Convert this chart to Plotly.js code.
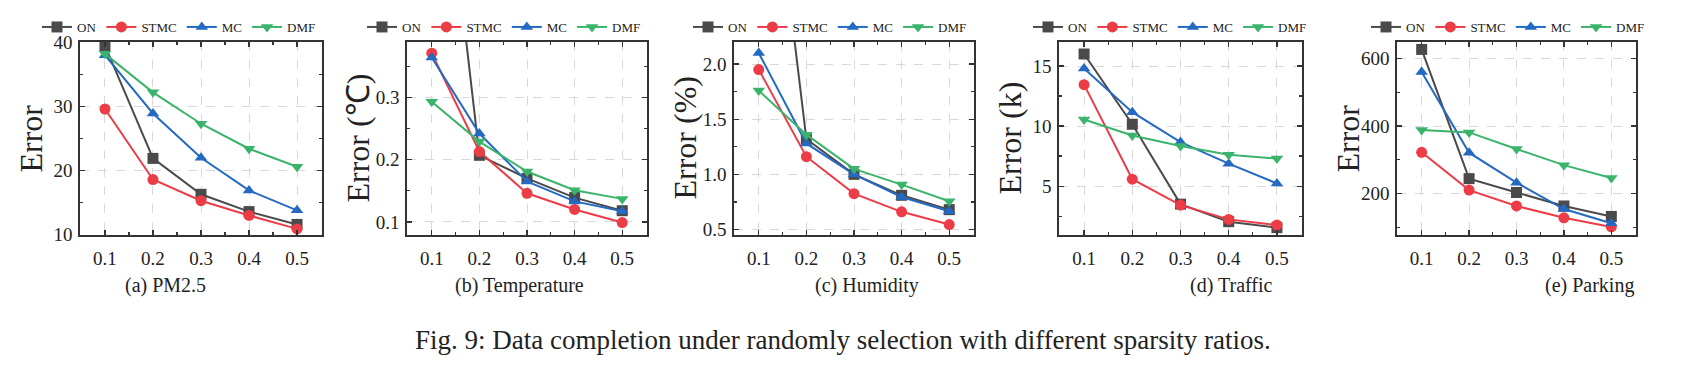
<!DOCTYPE html>
<html>
<head>
<meta charset="utf-8">
<script src="https://cdn.plot.ly/plotly-3.0.1.min.js"></script>
<style>html,body{margin:0;padding:0;background:#fff;}#chart{width:1686px;height:367px;}</style>
</head>
<body>
<div id="chart"></div>
<script>
// ---- data ----
const ratios = [0.1, 0.2, 0.3, 0.4, 0.5];
const methods = ["ON", "STMC", "MC", "DMF"];

const pm25_ON   = [39.5, 21.9, 16.3, 13.6, 11.6];
const pm25_STMC = [29.6, 18.6, 15.3, 13.0, 10.9];
const pm25_MC   = [38.0, 28.9, 22.0, 16.9, 13.8];
const pm25_DMF  = [38.2, 32.2, 27.3, 23.4, 20.6];

const temp_ON   = [0.87, 0.207, 0.170, 0.139, 0.118];
const temp_STMC = [0.371, 0.213, 0.146, 0.120, 0.099];
const temp_MC   = [0.364, 0.242, 0.165, 0.133, 0.117];
const temp_DMF  = [0.293, 0.229, 0.181, 0.151, 0.137];

const hum_ON    = [4.9, 1.32, 1.00, 0.81, 0.68];
const hum_STMC  = [1.95, 1.16, 0.825, 0.66, 0.545];
const hum_MC    = [2.10, 1.28, 1.00, 0.795, 0.666];
const hum_DMF   = [1.76, 1.36, 1.05, 0.907, 0.756];

const traf_ON   = [16.0, 10.15, 3.5, 2.04, 1.54];
const traf_STMC = [13.45, 5.58, 3.42, 2.23, 1.76];
const traf_MC   = [14.8, 11.16, 8.67, 6.87, 5.22];
const traf_DMF  = [10.55, 9.22, 8.34, 7.62, 7.29];

const park_ON   = [627, 244, 203, 163, 132];
const park_STMC = [322, 210, 163, 128, 101];
const park_MC   = [560, 321, 232, 154, 112];
const park_DMF  = [388, 381, 332, 284, 246];

const panelData = [
  [pm25_ON, pm25_STMC, pm25_MC, pm25_DMF],
  [temp_ON, temp_STMC, temp_MC, temp_DMF],
  [hum_ON, hum_STMC, hum_MC, hum_DMF],
  [traf_ON, traf_STMC, traf_MC, traf_DMF],
  [park_ON, park_STMC, park_MC, park_DMF]
];
const yTitles = ["Error", "Error (℃)", "Error (%)", "Error (k)", "Error"];
const captions = ["(a) PM2.5", "(b) Temperature", "(c) Humidity", "(d) Traffic", "(e) Parking"];
const figCaption = "Fig. 9: Data completion under randomly selection with different sparsity ratios.";

// ---- style ----
const W = 1686, H = 367;
const colors = ["#4a4a4a", "#ec3d47", "#2469c2", "#3bb46b"];
const symbols = ["square", "circle", "triangle-up", "triangle-down"];
const plotLeft = [80, 407, 734, 1059, 1397];
const plotRight = [322, 647, 974, 1302, 1636];
const plotTop = 42, plotBottom = 235;
const yRanges = [[9.95, 40.05], [0.079, 0.389], [0.45, 2.2], [0.93, 17.0], [77, 649]];
const yDticks = [10, 0.1, 0.5, 5, 200];
const yFormats = ["d", ".1f", ".1f", "d", "d"];
const legendLeft = [37, 362, 688, 1028, 1366];
const capCenters = [165, 519, 867, 1231, 1589];
const serif = "Liberation Serif, Times New Roman, serif";
const dark = "#333333";

const traces = [];
const layout = {
  width: W, height: H,
  margin: {l: 0, r: 0, t: 0, b: 0},
  paper_bgcolor: "#ffffff", plot_bgcolor: "#ffffff",
  font: {family: serif, color: "#222222", size: 18},
  annotations: []
};

for (let p = 0; p < 5; p++) {
  const sfx = p === 0 ? "" : String(p + 1);
  const legName = "legend" + sfx;
  for (let m = 0; m < 4; m++) {
    const clipOff = !((p === 1 || p === 2) && m === 0);
    traces.push({
      type: "scatter", mode: "lines+markers",
      x: ratios, y: panelData[p][m], name: methods[m],
      xaxis: "x" + sfx, yaxis: "y" + sfx,
      legend: legName,
      cliponaxis: !clipOff,
      line: {color: colors[m], width: 2},
      marker: {symbol: symbols[m], size: 11, color: colors[m]}
    });
  }
  layout["xaxis" + sfx] = {
    domain: [plotLeft[p] / W, plotRight[p] / W],
    anchor: "y" + sfx,
    range: [0.048, 0.552],
    tickvals: ratios, tickformat: ".1f",
    ticks: "inside", ticklen: 5, tickwidth: 1.2, tickcolor: dark,
    showline: true, linecolor: dark, linewidth: 1.6, mirror: "allticks",
    showgrid: true, gridcolor: "#d9d9d9", griddash: "dash", gridwidth: 1,
    zeroline: false,
    minor: {dtick: 0.05, tick0: 0.05, ticks: "inside", ticklen: 3, tickcolor: dark, showgrid: false},
    tickfont: {family: serif, size: 19, color: "#222222"},
    ticklabelstandoff: 6
  };
  layout["yaxis" + sfx] = {
    domain: [1 - plotBottom / H, 1 - plotTop / H],
    anchor: "x" + sfx,
    range: yRanges[p],
    dtick: yDticks[p], tick0: 0, tickformat: yFormats[p],
    ticks: "inside", ticklen: 5, tickwidth: 1.2, tickcolor: dark,
    showline: true, linecolor: dark, linewidth: 1.6, mirror: "allticks",
    showgrid: true, gridcolor: "#d9d9d9", griddash: "dash", gridwidth: 1,
    zeroline: false,
    minor: {dtick: yDticks[p] / 2, ticks: "inside", ticklen: 3, tickcolor: dark, showgrid: false},
    tickfont: {family: serif, size: 19, color: "#222222"},
    ticklabelstandoff: 2
  };
  layout[legName] = {
    orientation: "h",
    x: legendLeft[p] / W, xanchor: "left",
    y: 1 - 27 / H, yanchor: "middle",
    bgcolor: "rgba(0,0,0,0)",
    font: {family: serif, size: 13, color: "#222222"},
    tracegroupgap: 0, itemwidth: 30
  };
  layout.annotations.push({
    xref: "paper", yref: "paper",
    x: (plotLeft[p] - 50) / W, y: 1 - ((plotTop + plotBottom) / 2) / H,
    xanchor: "center", yanchor: "middle",
    text: yTitles[p], textangle: -90, showarrow: false,
    font: {family: serif, size: 32, color: "#222222"}
  });
  layout.annotations.push({
    xref: "paper", yref: "paper",
    x: capCenters[p] / W, y: 1 - 285 / H,
    xanchor: "center", yanchor: "middle",
    text: captions[p], showarrow: false,
    font: {family: serif, size: 20, color: "#222222"}
  });
}
layout.annotations.push({
  xref: "paper", yref: "paper",
  x: 843 / W, y: 1 - 340 / H,
  xanchor: "center", yanchor: "middle",
  text: figCaption, showarrow: false,
  font: {family: serif, size: 27, color: "#222222"}
});

Plotly.newPlot("chart", traces, layout, {displayModeBar: false, staticPlot: true});
</script>
</body>
</html>
